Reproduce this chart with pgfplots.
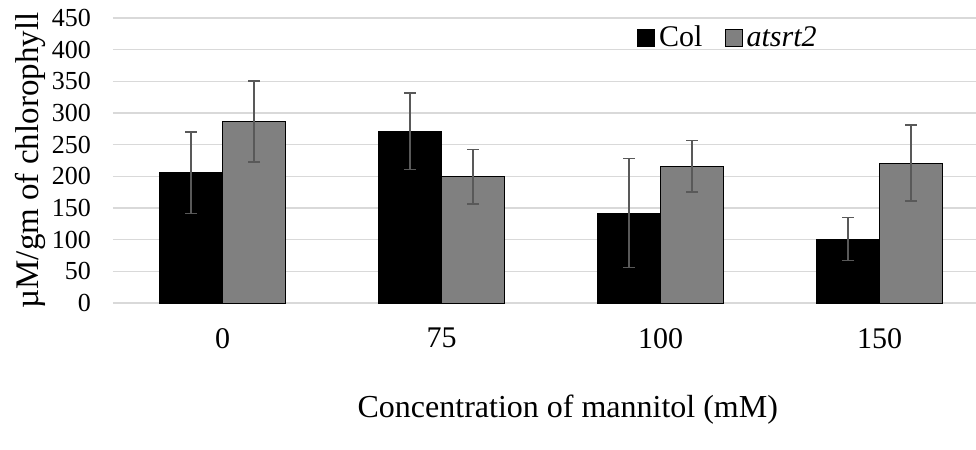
\documentclass[border=0pt]{standalone}
\usepackage{fontspec}
\setmainfont{Liberation Serif}
\usepackage{pgfplots}
\pgfplotsset{compat=1.18}
\definecolor{gridgray}{HTML}{D9D9D9}
\definecolor{bargray}{HTML}{808080}
\definecolor{errgray}{HTML}{595959}

\begin{document}
\begin{tikzpicture}
\begin{axis}[
  scale only axis,
  width=431.5pt, height=142.5pt,
  ybar=0pt, bar width=31.5pt,
  xmin=-0.5, xmax=3.44,
  ymin=0, ymax=450,
  xtick={0,1,2,3}, xticklabels={0,75,100,150},
  ytick={0,50,...,450},
  ymajorgrids, grid style={gridgray, line width=0.75pt},
  axis line style={draw=none},
  major tick length=0pt,
  /pgf/number format/assume math mode=true,
  yticklabel style={font=\fontsize{13}{15}\selectfont, xshift=-7.5pt},
  xticklabel style={font=\fontsize{15}{18}\selectfont, yshift=-9pt},
  xlabel={Concentration of mannitol (mM)},
  ylabel={µM/gm of chlorophyll},
  xlabel style={font=\fontsize{16}{19}\selectfont, at={(rel axis cs:0.527,-0.375)}, anchor=center},
  ylabel style={font=\fontsize{16.5}{19}\selectfont, at={(rel axis cs:-0.0962,0.5)}, anchor=center},
  error bars/y dir=both, error bars/y explicit,
  error bars/error bar style={errgray, line width=0.75pt},
  error bars/error mark options={rotate=90, errgray, mark size=3pt, line width=0.75pt},
  legend style={draw=none, fill=none, at={(rel axis cs:0.607,0.93)}, anchor=west,
    legend columns=2, font=\fontsize{15}{18}\selectfont, inner sep=0pt,
    /tikz/every even column/.append style={column sep=9pt}},
  legend image code/.code={\draw[#1,draw=black,line width=0.5pt] (0pt,-4.25pt) rectangle (8.5pt,4.25pt);},
]
\addplot[fill=black, draw=black, line width=0.5pt] coordinates {
  (0,205.7) +- (0,64)
  (1,271) +- (0,60.5)
  (2,142) +- (0,86)
  (3,101) +- (0,34)
};
\addplot[fill=bargray, draw=black, line width=0.5pt] coordinates {
  (0,286.7) +- (0,63.7)
  (1,199) +- (0,43)
  (2,215.8) +- (0,40.5)
  (3,221) +- (0,60.3)
};
\legend{Col, \textit{atsrt2}}
\coordinate (bl) at (rel axis cs:0,0);
\coordinate (tr) at (rel axis cs:1,1);
\end{axis}
\pgfresetboundingbox
\path[use as bounding box] ([xshift=-56.5pt,yshift=-73.5pt]bl) rectangle ([yshift=9pt]tr);
\end{tikzpicture}
\end{document}
